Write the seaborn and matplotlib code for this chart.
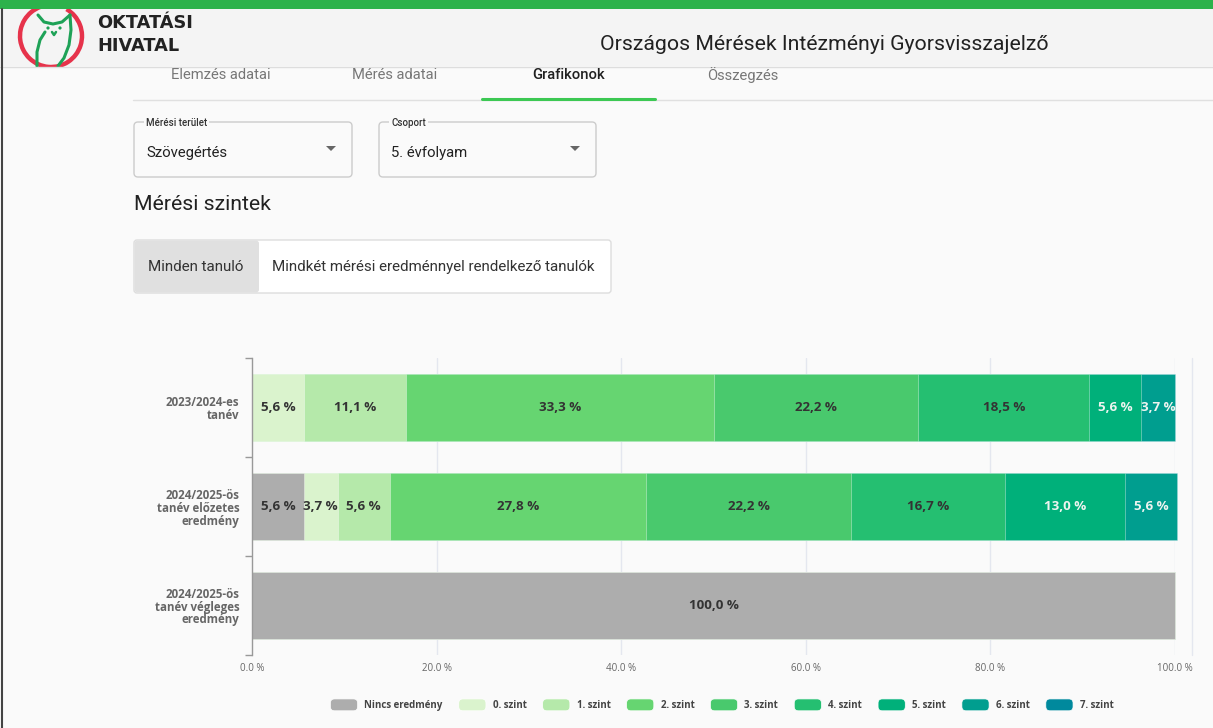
import numpy as np
import pandas as pd
import matplotlib
matplotlib.use("Agg")
import matplotlib.pyplot as plt
import seaborn as sns
from matplotlib.patches import Rectangle, FancyBboxPatch, Circle, Polygon, Arc
from matplotlib.legend_handler import HandlerPatch

# chart data
years = ["2023/2024-es\ntanév",
         "2024/2025-ös\ntanév előzetes\neredmény",
         "2024/2025-ös\ntanév végleges\neredmény"]
levels = ["Nincs eredmény", "0. szint", "1. szint", "2. szint", "3. szint",
          "4. szint", "5. szint", "6. szint", "7. szint"]
nincs = [0.0, 5.6, 100.0]
szint0 = [5.6, 3.7, 0.0]
szint1 = [11.1, 5.6, 0.0]
szint2 = [33.3, 27.8, 0.0]
szint3 = [22.2, 22.2, 0.0]
szint4 = [18.5, 16.7, 0.0]
szint5 = [5.6, 13.0, 0.0]
szint6 = [3.7, 5.6, 0.0]
szint7 = [0.0, 0.0, 0.0]
colors = ["#adadad", "#daf3cd", "#b5e9aa", "#66d571", "#49c96d",
          "#25bf71", "#00b07a", "#009e8f", "#00899d"]
label_colors = ["#333333"] * 6 + ["#eef4f0"] * 3
xticks = [0, 20, 40, 60, 80, 100]

values = [nincs, szint0, szint1, szint2, szint3, szint4, szint5, szint6, szint7]
df = pd.DataFrame(dict(zip(levels, values)), index=years)
cum = df.cumsum(axis=1)

sns.set_theme(style="white")
plt.rcParams["font.family"] = ["Roboto", "DejaVu Sans"]

W, H = 1213, 728
fig = plt.figure(figsize=(W / 100, H / 100), dpi=100)
fig.patch.set_facecolor("#fafafa")

# page background layer, pixel coordinates
bg = fig.add_axes([0, 0, 1, 1], zorder=0)
bg.set_xlim(0, W)
bg.set_ylim(H, 0)
bg.axis("off")

bg.add_patch(Rectangle((0, 9), W, 57, fc="#f4f4f4", ec="none"))

# logo
arc = Arc((51, 36), 62, 62, theta1=-60, theta2=250, color="#e6334b", lw=3.2)
bg.add_patch(arc)
green = "#1ea257"
bg.plot([38, 44, 53, 62, 70], [15, 22, 24, 22, 15], color=green, lw=2.2, solid_capstyle="round")
bg.plot([70, 71, 69, 64, 58], [15, 30, 45, 58, 66], color=green, lw=2.2)
bg.plot([45, 40, 37, 37], [32, 40, 52, 66], color=green, lw=2.2)
bg.plot([52, 54, 56], [32, 35, 32], color=green, lw=1.8)
bg.add_patch(Circle((48, 28), 1.6, fc=green, ec="none"))
bg.add_patch(Circle((60, 28), 1.6, fc=green, ec="none"))
bg.add_patch(Rectangle((10, 66.8), 90, 12, fc="#fafafa", ec="none"))
bg.add_patch(Rectangle((0, 0), W, 9, fc="#2db24b", ec="none"))
bg.plot([0, W], [66.5, 66.5], color="#dddddd", lw=1)
bg.plot([1.5, 1.5], [9, H], color="#444444", lw=1.5)
bg.text(97, 23, "OKTATÁSI", fontsize=12.8, fontweight="bold", color="#222222",
        va="center", ha="left", family=["DejaVu Sans"])
bg.text(97, 46, "HIVATAL", fontsize=12.8, fontweight="bold", color="#222222",
        va="center", ha="left", family=["DejaVu Sans"])

bg.text(824, 44, "Országos Mérések Intézményi Gyorsvisszajelző", fontsize=15.3,
        color="#212121", ha="center", va="center")

# tabs
tabs = ["Elemzés adatai", "Mérés adatai", "Grafikonok", "Összegzés"]
for i, t in enumerate(tabs):
    active = t == "Grafikonok"
    bg.text(221 + i * 174, 75, t, fontsize=10.6, ha="center", va="center",
            color="#212121" if active else "#777777",
            fontweight="medium" if active else "normal")
bg.plot([133, W], [100, 100], color="#e0e0e0", lw=1)
bg.plot([482, 655], [99, 99], color="#3cc853", lw=2.2)

# dropdowns
for x0, x1, lab, val in [(134, 352, "Mérési terület", "Szövegértés"),
                         (379, 596, "Csoport", "5. évfolyam")]:
    bg.add_patch(FancyBboxPatch((x0, 122), x1 - x0, 55, boxstyle="round,pad=0,rounding_size=4",
                                fc="#fafafa", ec="#cccccc", lw=1))
    bg.text(x0 + 12, 123, lab, fontsize=7, color="#333333", fontweight="medium",
            ha="left", va="center", bbox=dict(fc="#fafafa", ec="none", pad=1.5))
    bg.text(x0 + 12, 153, val, fontsize=10.7, color="#212121", ha="left", va="center")
    ax_ = x1 - 21
    bg.add_patch(Polygon([[ax_ - 5, 146], [ax_ + 5, 146], [ax_, 151]], fc="#666666", ec="none"))

bg.text(134, 205, "Mérési szintek", fontsize=15.3, color="#212121", ha="left", va="center")

# toggle
bg.add_patch(FancyBboxPatch((134, 240), 477, 53, boxstyle="round,pad=0,rounding_size=3",
                            fc="white", ec="#dddddd", lw=1))
bg.add_patch(FancyBboxPatch((134.5, 240.5), 124.5, 52, boxstyle="round,pad=0,rounding_size=3",
                            fc="#e0e0e0", ec="none"))
bg.text(148, 267, "Minden tanuló", fontsize=10.9, color="#333333", ha="left", va="center")
bg.text(272, 267, "Mindkét mérési eredménnyel rendelkező tanulók", fontsize=10.9,
        color="#333333", ha="left", va="center")

bg.plot([1192, 1192], [358, 655], color="#e4e7ef", lw=1)

# chart
ax = fig.add_axes([252 / W, 1 - 655 / H, 923 / W, 297 / H], zorder=1)
ax.patch.set_alpha(0)
for i in range(len(levels) - 1, -1, -1):
    d = pd.DataFrame({"year": years, "value": cum[levels[i]].values})
    sns.barplot(data=d, x="value", y="year", orient="h", color=colors[i], saturation=1,
                width=0.67, errorbar=None, ax=ax, edgecolor=(1, 1, 1, 0.35), linewidth=0.7,
                zorder=2)
for p in ax.patches:
    p.set_clip_on(False)

for i, lvl in enumerate(levels):
    for j, yr in enumerate(years):
        v = df.loc[yr, lvl]
        if v > 0:
            ax.text(cum.loc[yr, lvl] - v / 2, j, f"{v:.1f} %".replace(".", ","),
                    ha="center", va="center", fontsize=9.6, fontweight="bold",
                    color=label_colors[i], family=["Open Sans", "DejaVu Sans"], zorder=5)

ax.set_xlim(0, 100)
ax.set_ylim(2.5, -0.5)
ax.set_xlabel("")
ax.set_ylabel("")
ax.set_xticks(xticks)
ax.set_xticklabels([f"{t:.1f} %" for t in xticks], fontsize=7, color="#666666",
                   family=["Open Sans", "DejaVu Sans"])
ax.tick_params(axis="x", length=0, pad=6)
for t in xticks[1:]:
    ax.axvline(t, color="#e4e7ef", lw=1, zorder=0)
ax.set_yticks(range(len(years)))
ax.set_yticklabels(years, fontsize=8.3, fontweight="bold", color="#666666",
                   family=["Open Sans", "DejaVu Sans"], linespacing=1.0)
ax.set_yticks([-0.5, 0.5, 1.5, 2.5], minor=True)
ax.tick_params(axis="y", which="major", length=0, pad=9)
ax.tick_params(axis="y", which="minor", length=5, color="#999999", width=1, left=True)
for s in ["top", "right", "bottom"]:
    ax.spines[s].set_visible(False)
ax.spines["left"].set_color("#999999")
ax.spines["left"].set_linewidth(1)


class RoundHandler(HandlerPatch):
    def create_artists(self, legend, orig_handle, xdescent, ydescent, width, height, fontsize, trans):
        p = FancyBboxPatch((-xdescent, -ydescent), width, height,
                           boxstyle="round,pad=0,rounding_size=3",
                           fc=orig_handle.get_facecolor(), ec="white", lw=0.5, transform=trans)
        return [p]


handles = [Rectangle((0, 0), 1, 1, fc=c) for c in colors]
leg = fig.legend(handles, levels, loc="center", bbox_to_anchor=(722 / W, 1 - 705 / H), ncol=9,
                 frameon=False, handlelength=2.8, handleheight=1.5, handletextpad=0.7,
                 columnspacing=1.65, handler_map={Rectangle: RoundHandler()},
                 prop={"family": ["Open Sans", "DejaVu Sans"], "size": 7, "weight": "bold"})
for t in leg.get_texts():
    t.set_color("#444444")

fig.savefig("out.png", dpi=100, facecolor=fig.get_facecolor())
